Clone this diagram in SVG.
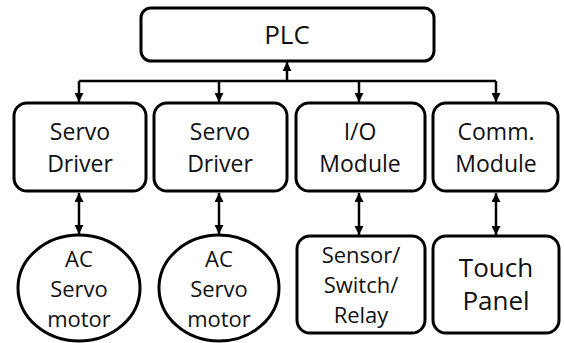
<svg xmlns="http://www.w3.org/2000/svg" width="564" height="343" viewBox="0 0 564 343">
<defs>
<style>
.box{fill:#fff;stroke:#000;stroke-width:3}
.t{font-family:"Open Sans","Noto Sans",sans-serif;font-size:23px;fill:#111;text-anchor:middle}
.tm{font-size:22px}
.tl{font-size:26px}
.c{fill:none;stroke:#000;stroke-width:2.5}
</style>
<marker id="ah" viewBox="0 0 10 10" refX="10" refY="5" markerWidth="9" markerHeight="9" markerUnits="userSpaceOnUse" orient="auto-start-reverse">
<path d="M0,0 L10,5 L0,10 Z" fill="#000"/>
</marker>
</defs>
<rect width="564" height="343" fill="#fff"/>
<g id="connectors">
<path class="c" d="M79,81 H496"/>
<path class="c" d="M287,81 V62" marker-end="url(#ah)"/>
<path class="c" d="M79,81 V102" marker-end="url(#ah)"/>
<path class="c" d="M219,81 V102" marker-end="url(#ah)"/>
<path class="c" d="M359,81 V102" marker-end="url(#ah)"/>
<path class="c" d="M496,81 V102" marker-end="url(#ah)"/>
<path class="c" d="M79,193 V234" marker-start="url(#ah)" marker-end="url(#ah)"/>
<path class="c" d="M219,193 V234" marker-start="url(#ah)" marker-end="url(#ah)"/>
<path class="c" d="M359,193 V235" marker-start="url(#ah)" marker-end="url(#ah)"/>
<path class="c" d="M496,193 V235" marker-start="url(#ah)" marker-end="url(#ah)"/>
</g>
<g id="plc">
<rect class="box" x="141" y="8" width="293" height="53" rx="10"/>
<text class="t tl" x="287" y="44">PLC</text>
</g>
<g id="servo-driver-1">
<rect class="box" x="14" y="103" width="132" height="88" rx="13"/>
<text class="t" x="80" y="140">Servo</text>
<text class="t" x="80" y="172">Driver</text>
</g>
<g id="servo-driver-2">
<rect class="box" x="154" y="103" width="133" height="88" rx="13"/>
<text class="t" x="220" y="140">Servo</text>
<text class="t" x="220" y="172">Driver</text>
</g>
<g id="io-module">
<rect class="box" x="296" y="103" width="129" height="88" rx="13"/>
<text class="t" x="360" y="140">I/O</text>
<text class="t" x="360" y="172">Module</text>
</g>
<g id="comm-module">
<rect class="box" x="433" y="103" width="125" height="88" rx="13"/>
<text class="t" x="496" y="140">Comm.</text>
<text class="t" x="496" y="172">Module</text>
</g>
<g id="ac-servo-motor-1">
<ellipse class="box" cx="79" cy="288" rx="61" ry="53"/>
<text class="t tm" x="79" y="267">AC</text>
<text class="t tm" x="79" y="297">Servo</text>
<text class="t tm" x="79" y="327">motor</text>
</g>
<g id="ac-servo-motor-2">
<ellipse class="box" cx="219" cy="288" rx="60" ry="53"/>
<text class="t tm" x="219" y="267">AC</text>
<text class="t tm" x="219" y="297">Servo</text>
<text class="t tm" x="219" y="327">motor</text>
</g>
<g id="sensor-switch-relay">
<rect class="box" x="297" y="236" width="128" height="97" rx="13"/>
<text class="t tm" x="361" y="263">Sensor/</text>
<text class="t tm" x="361" y="293">Switch/</text>
<text class="t tm" x="361" y="323">Relay</text>
</g>
<g id="touch-panel">
<rect class="box" x="433" y="236" width="126" height="97" rx="13"/>
<text class="t tl" x="496" y="277">Touch</text>
<text class="t tl" x="496" y="310">Panel</text>
</g>
</svg>
